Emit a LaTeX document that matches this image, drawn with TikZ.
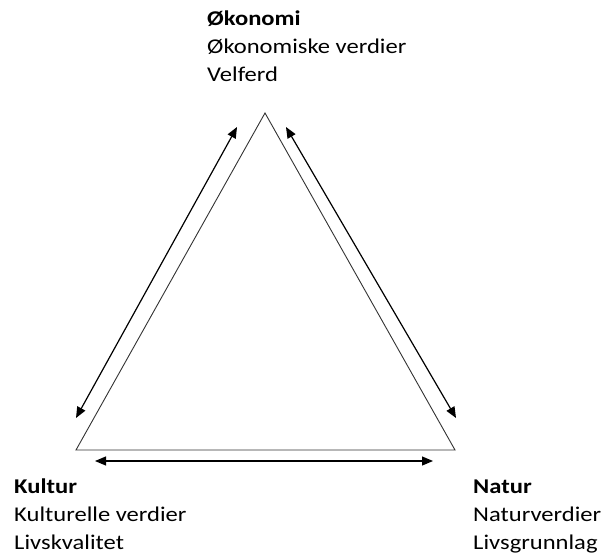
\documentclass[tikz,border=0pt]{standalone}
\usepackage{fontspec}
\setmainfont{Carlito}[FakeStretch=1.17]
\usepackage{tikz}
\usetikzlibrary{arrows.meta}

\begin{document}
\begin{tikzpicture}[
		x=1pt, y=-1pt,
		font=\fontsize{21}{27.7}\selectfont,
		lbl/.style={anchor=base west, align=left, inner sep=0pt, text=black},
		side/.style={draw=black!80, line width=0.9pt, line join=miter},
		arr/.style={{Triangle[length=11pt,width=9pt]}-{Triangle[length=11pt,width=9pt]},
				line width=1.2pt}
		]
		\useasboundingbox (0,0) rectangle (605,554);
		% corners of the triangle
		\coordinate (top) at (265,113);
		\coordinate (bl) at (76,450);
		\coordinate (br) at (455,450);
		\draw[side] (top) -- (bl) -- (br) -- cycle;
		% labels (anchored on the baseline of the last line)
		\node[lbl] (okonomi) at (207,81)
		{\textbf{Økonomi}\\Økonomiske verdier\\Velferd};
		\node[lbl] (kultur) at (14,549)
		{\textbf{Kultur}\\Kulturelle verdier\\Livskvalitet};
		\node[lbl] (natur) at (473,549)
		{\textbf{Natur}\\Naturverdier\\Livsgrunnlag};
		% arrow ends
		\coordinate (l1) at (76,418);
		\coordinate (l2) at (237,127);
		\coordinate (r1) at (286,127);
		\coordinate (r2) at (456,418);
		\coordinate (b1) at (95,461);
		\coordinate (b2) at (433,461);
		% arrows along the sides
		\draw[arr] (l1) -- (l2);
		\draw[arr] (r1) -- (r2);
		\draw[arr] (b1) -- (b2);
	\end{tikzpicture}
\end{document}
